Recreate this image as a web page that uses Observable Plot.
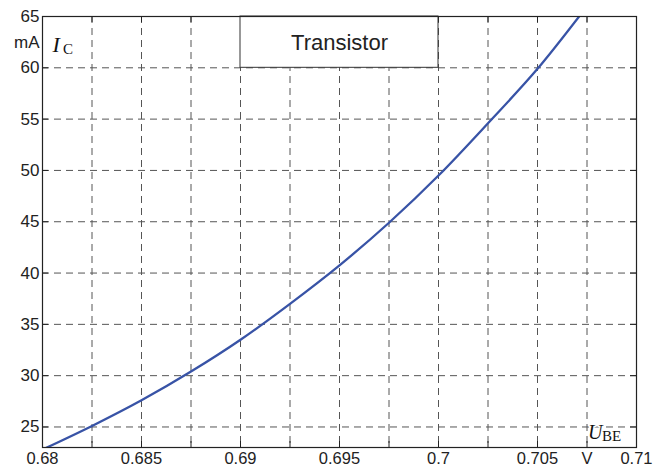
<!DOCTYPE html>
<html>
<head>
<meta charset="utf-8">
<script src="https://cdn.jsdelivr.net/npm/d3@7"></script>
<script src="https://cdn.jsdelivr.net/npm/@observablehq/plot@0.6"></script>
<style>
  html, body { margin: 0; padding: 0; background: #fff; }
  #chart svg { display: block; }
</style>
</head>
<body>
<div id="chart"></div>
<script>
// Collector current I_C of a transistor against base-emitter voltage U_BE
const ube = [0.68, 0.6825, 0.685, 0.6875, 0.69, 0.6925, 0.695, 0.6975, 0.7, 0.7025, 0.705, 0.7075];
const ic  = [22.8, 25.1, 27.6, 30.4, 33.5, 37.0, 40.75, 44.9, 49.5, 54.6, 59.9, 66.0];

// Axis ticks and unit labels
const xTickValues = [0.68, 0.685, 0.69, 0.695, 0.7, 0.705, 0.71];
const xGridValues = [0.68, 0.6825, 0.685, 0.6875, 0.69, 0.6925, 0.695, 0.6975, 0.7, 0.7025, 0.705, 0.7075, 0.71];
const xUnitValue = 0.7075;
const xUnitLabel = "V";
const yTickValues = [25, 30, 35, 40, 45, 50, 55, 60, 65];
const yUnitValue = 62.5;
const yUnitLabel = "mA";
const seriesName = "Transistor";

// Legend box spans one grid cell at the top
const legendX = [0.69, 0.7];
const legendY = [60, 65];

const W = 665, H = 468;
const mL = 42, mR = 29, mT = 16, mB = 21;
const plotW = W - mL - mR, plotH = H - mT - mB;
const tickLen = 6;

const points = ube.map((u, k) => ({u, i: ic[k]}));
const gridStyle = {stroke: "#555", strokeOpacity: 1, strokeWidth: 1, strokeDasharray: "7,5"};
const sans = "'Liberation Sans', Arial, Helvetica, sans-serif";
const serif = "'Liberation Serif', 'Times New Roman', serif";

const chart = Plot.plot({
  width: W,
  height: H,
  marginLeft: mL,
  marginRight: mR,
  marginTop: mT,
  marginBottom: mB,
  style: {fontFamily: sans, background: "#fff", color: "#111"},
  x: {domain: [0.68, 0.71], label: null},
  y: {domain: [23, 65], label: null},
  marks: [
    Plot.gridX(xGridValues.slice(1, -1), gridStyle),
    Plot.gridY(yTickValues.slice(0, -1), gridStyle),
    // inward tick marks on all four sides
    Plot.tickX(xGridValues, {x: d => d, stroke: "#222", insetTop: plotH - tickLen}),
    Plot.tickX(xGridValues, {x: d => d, stroke: "#222", insetBottom: plotH - tickLen}),
    Plot.tickY(yTickValues, {y: d => d, stroke: "#222", insetRight: plotW - tickLen}),
    Plot.tickY(yTickValues, {y: d => d, stroke: "#222", insetLeft: plotW - tickLen}),
    Plot.line(points, {x: "u", y: "i", stroke: "#3853a6", strokeWidth: 2.3, curve: "monotone-x", clip: true}),
    // legend
    Plot.rect([0], {x1: legendX[0], x2: legendX[1], y1: legendY[0], y2: legendY[1], fill: "white", stroke: "#333", strokeWidth: 1}),
    Plot.text([seriesName], {
      x: (legendX[0] + legendX[1]) / 2, y: (legendY[0] + legendY[1]) / 2,
      text: d => d, fontSize: 22, fontFamily: sans, fill: "#222", dy: 1
    }),
    // axis tick labels with the units in place of one tick
    Plot.axisX([...xTickValues, xUnitValue], {
      tickSize: 0, tickPadding: 5, fontSize: 16.5, fill: "#222",
      tickFormat: d => d === xUnitValue ? xUnitLabel : String(d)
    }),
    Plot.axisY([...yTickValues, yUnitValue], {
      tickSize: 0, tickPadding: 3, fontSize: 17, fill: "#222",
      tickFormat: d => d === yUnitValue ? yUnitLabel : String(d)
    }),
    // quantity symbols I_C and U_BE
    Plot.text(["I"], {text: d => d, frameAnchor: "top-left", dx: 10, dy: 35, lineAnchor: "bottom", textAnchor: "start",
      fontFamily: serif, fontStyle: "italic", fontSize: 22, fill: "#111"}),
    Plot.text(["C"], {text: d => d, frameAnchor: "top-left", dx: 20.5, dy: 37, lineAnchor: "bottom", textAnchor: "start",
      fontFamily: serif, fontSize: 15, fill: "#111"}),
    Plot.text(["BE"], {text: d => d, frameAnchor: "bottom-right", dx: -34.5, dy: -7, lineAnchor: "bottom", textAnchor: "start",
      fontFamily: serif, fontSize: 15, fill: "#111", stroke: "white", strokeWidth: 6, paintOrder: "stroke"}),
    Plot.text(["U"], {text: d => d, frameAnchor: "bottom-right", dx: -48.5, dy: -8.5, lineAnchor: "bottom", textAnchor: "start",
      fontFamily: serif, fontStyle: "italic", fontSize: 20, fill: "#111", stroke: "white", strokeWidth: 3, paintOrder: "stroke"}),
    Plot.frame({stroke: "#222", strokeWidth: 1.2})
  ]
});

document.getElementById("chart").appendChild(chart);
</script>
</body>
</html>
